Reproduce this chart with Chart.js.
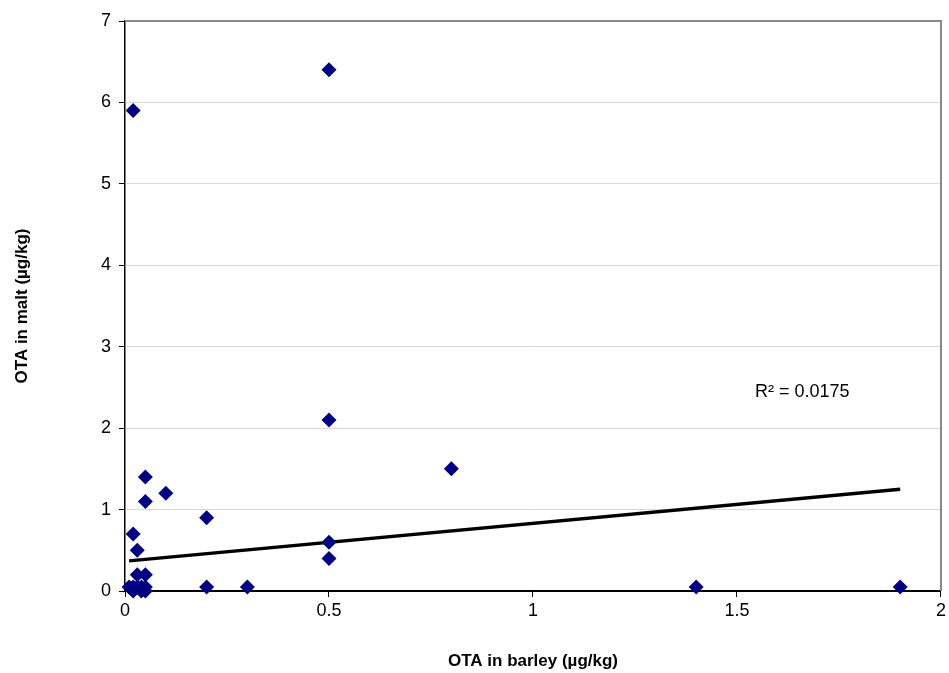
<!DOCTYPE html>
<html>
<head>
<meta charset="utf-8">
<script src="https://cdn.jsdelivr.net/npm/chart.js@4"></script>
<style>
  html, body { margin: 0; padding: 0; background: #fff; }
  #wrap { width: 949px; height: 673px; }
</style>
</head>
<body>
<div id="wrap"><canvas id="otaChart"></canvas></div>
<script>
// OTA barley vs malt
var barley = [0.02, 0.5, 0.5, 0.8, 0.05, 0.1, 0.05, 0.2, 0.02, 0.5, 0.03, 0.5, 0.03, 0.05,
              0.01, 0.02, 0.03, 0.04, 0.05, 0.02, 0.04, 0.05, 0.2, 0.3, 1.4, 1.9];
var malt   = [5.9, 6.4, 2.1, 1.5, 1.4, 1.2, 1.1, 0.9, 0.7, 0.6, 0.5, 0.4, 0.2, 0.2,
              0.05, 0.05, 0.05, 0.05, 0.05, 0.0, 0.0, 0.0, 0.05, 0.05, 0.05, 0.05];

// linear trend line ends
var trendX = [0.01, 1.9];
var trendY = [0.37, 1.25];

var xTicks = [0, 0.5, 1, 1.5, 2];
var yTicks = [0, 1, 2, 3, 4, 5, 6, 7];
var rSquaredLabel = 'R² = 0.0175';

var points = barley.map(function (b, i) { return { x: b, y: malt[i] }; });
var trend = trendX.map(function (t, i) { return { x: t, y: trendY[i] }; });

var fontFamily = 'Arial, "Liberation Sans", sans-serif';

// gray frame on top + right, and the R² text
var framePlugin = {
    id: 'frame',
    afterDatasetsDraw: function (chart) {
        var ctx = chart.ctx, a = chart.chartArea;
        ctx.save();
        ctx.strokeStyle = '#888888';
        ctx.lineWidth = 2;
        ctx.beginPath();
        ctx.moveTo(a.left, a.top);
        ctx.lineTo(a.right, a.top);
        ctx.lineTo(a.right, a.bottom);
        ctx.stroke();

        var xs = chart.scales.x, ys = chart.scales.y;
        ctx.fillStyle = '#000';
        ctx.font = '18px ' + fontFamily;
        ctx.textAlign = 'center';
        ctx.textBaseline = 'middle';
        ctx.fillText(rSquaredLabel, xs.getPixelForValue(1.66), ys.getPixelForValue(2.44));
        ctx.restore();
    }
};

var ctx = document.getElementById('otaChart');

var chart = new Chart(ctx, {
    type: 'scatter',
    data: {
        datasets: [{
            label: 'Trend',
            data: trend,
            showLine: true,
            borderColor: '#000000',
            borderWidth: 3.5,
            pointRadius: 0,
            order: 2
        }, {
            label: 'OTA',
            data: points,
            pointStyle: 'rectRot',
            pointRadius: 7.5,
            pointHoverRadius: 7.5,
            backgroundColor: '#000080',
            borderColor: '#000080',
            borderWidth: 0,
            clip: false,
            order: 1
        }]
    },
    options: {
        responsive: true,
        maintainAspectRatio: false,
        animation: false,
        layout: { padding: { top: 21, right: 0, left: 0, bottom: 0 } },
        plugins: {
            legend: { display: false },
            tooltip: { enabled: false }
        },
        scales: {
            x: {
                type: 'linear',
                min: 0,
                max: 2,
                afterBuildTicks: function (s) { s.ticks = xTicks.map(function (v) { return { value: v }; }); },
                afterFit: function (s) { s.height = 82; },
                grid: { display: true, drawOnChartArea: false, drawTicks: true, tickLength: 6, color: '#000' },
                border: { color: '#000', width: 1.5 },
                ticks: {
                    color: '#000',
                    font: { family: fontFamily, size: 18 },
                    padding: 3,
                    maxRotation: 0,
                    callback: function (v) { return String(v); }
                },
                title: {
                    display: true,
                    text: 'OTA in barley (µg/kg)',
                    color: '#000',
                    font: { family: fontFamily, size: 17, weight: 'bold' },
                    padding: { top: 18, bottom: 1 }
                }
            },
            y: {
                type: 'linear',
                min: 0,
                max: 7,
                afterBuildTicks: function (s) { s.ticks = yTicks.map(function (v) { return { value: v }; }); },
                afterFit: function (s) { s.width = 125; },
                grid: {
                    color: function (c) { return c.tick && c.tick.value === 0 ? '#000' : '#d9d9d9'; },
                    tickColor: '#000',
                    tickLength: 6,
                    lineWidth: 1
                },
                border: { color: '#000', width: 1.5 },
                ticks: { color: '#000', font: { family: fontFamily, size: 18 }, padding: 8 },
                title: {
                    display: true,
                    text: 'OTA in malt (µg/kg)',
                    color: '#000',
                    font: { family: fontFamily, size: 17, weight: 'bold' },
                    padding: { top: 12, bottom: 20 }
                }
            }
        }
    },
    plugins: [framePlugin]
});
</script>
</body>
</html>
